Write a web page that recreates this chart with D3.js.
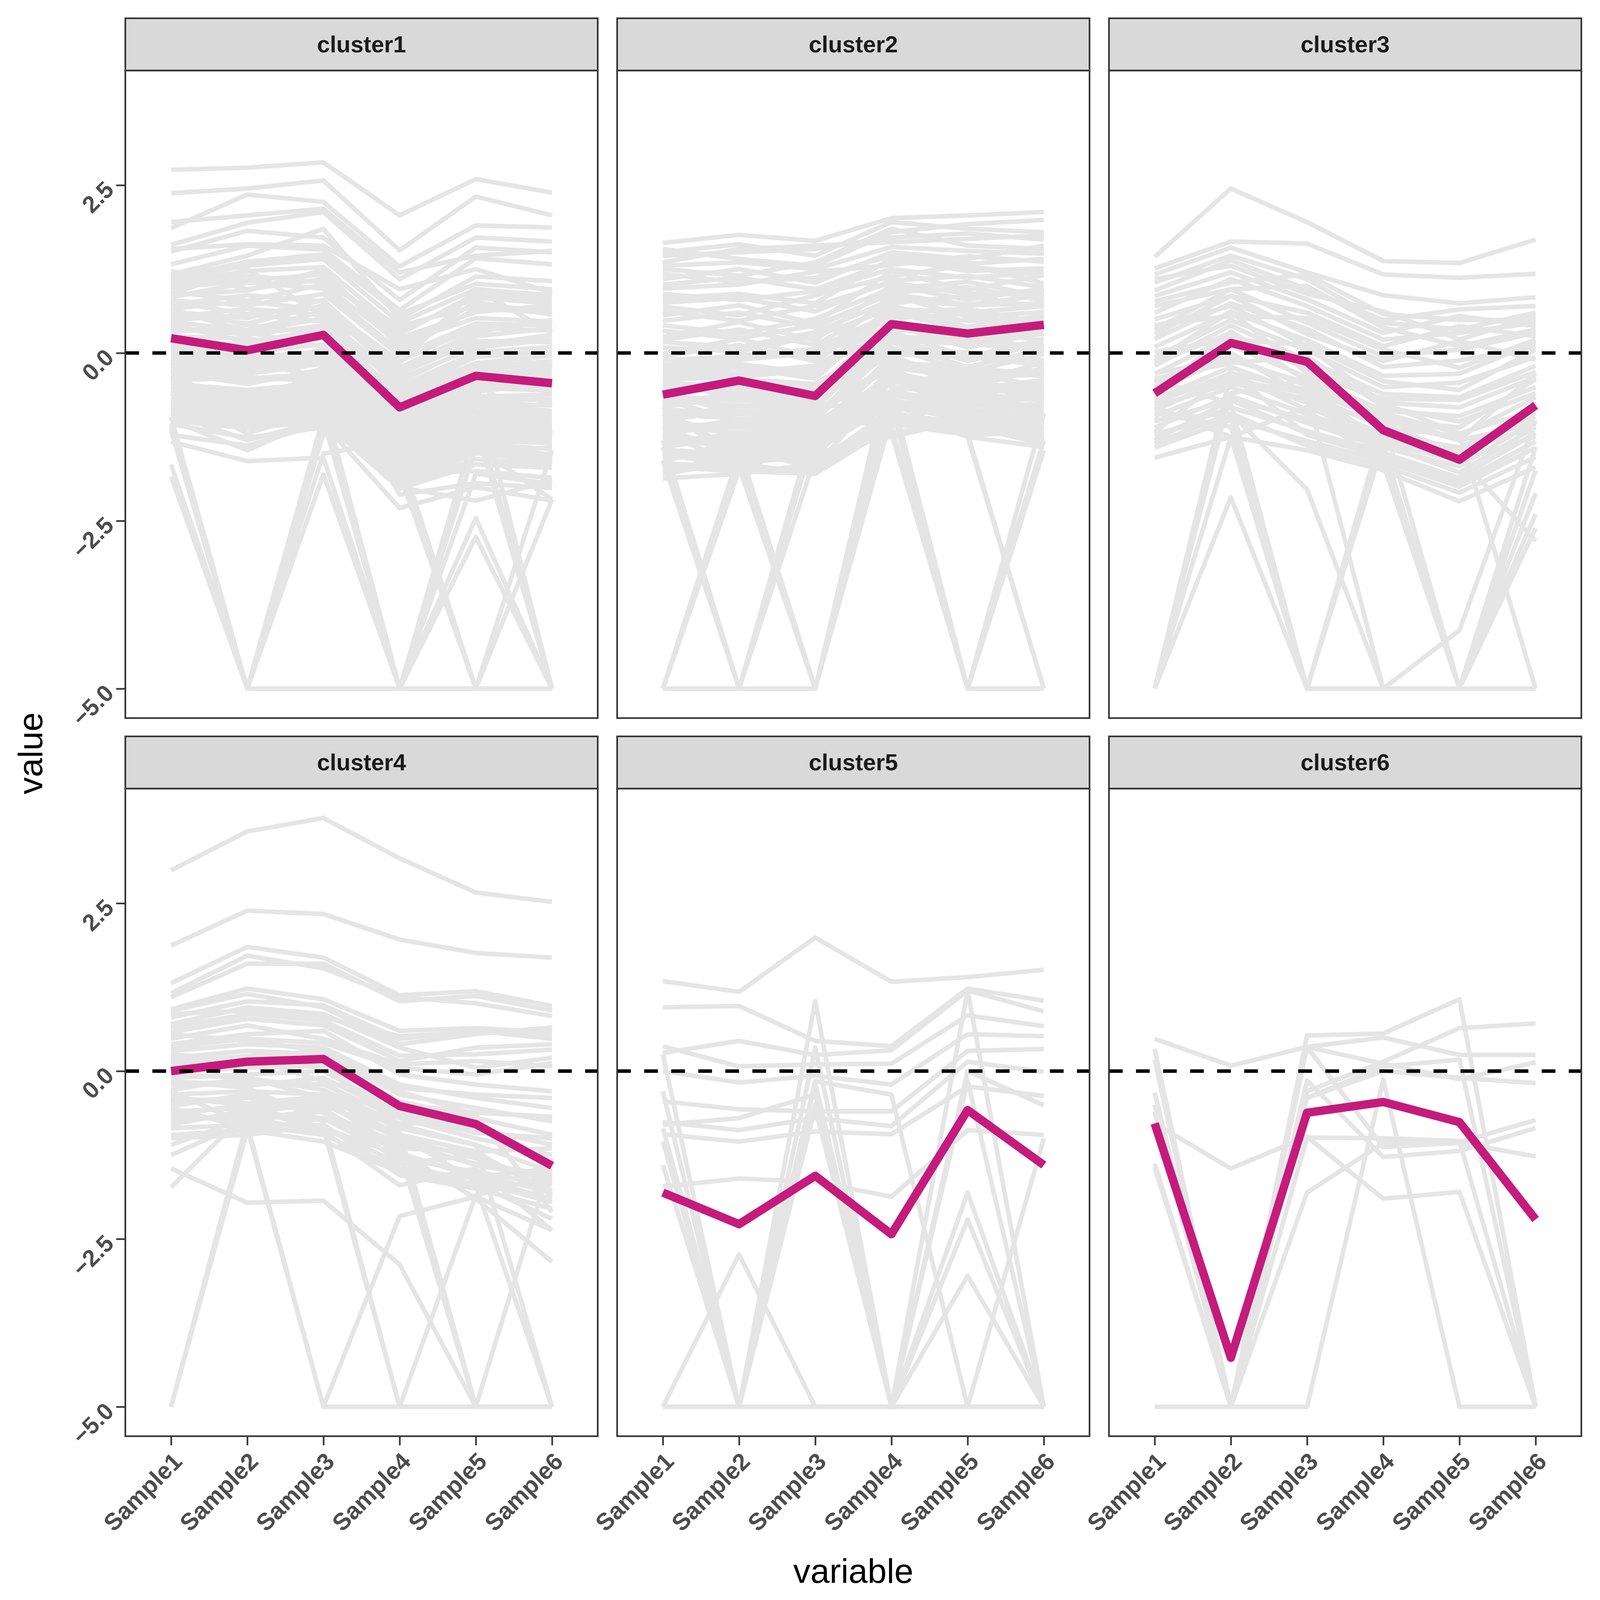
<!DOCTYPE html>
<html>
<head>
<meta charset="utf-8">
<script src="https://cdn.jsdelivr.net/npm/d3@7"></script>
<style>
  html, body { margin: 0; padding: 0; background: #fff; overflow: hidden; }
  #chart { display: block; width: 100vw; height: 100vh; }
  text { font-family: "Liberation Sans", Arial, sans-serif; }
</style>
</head>
<body>
<svg id="chart" viewBox="0 0 4200 4200" preserveAspectRatio="xMidYMid meet"></svg>
<script>
var samples = ["Sample1", "Sample2", "Sample3", "Sample4", "Sample5", "Sample6"];
var clusters = ["cluster1", "cluster2", "cluster3", "cluster4", "cluster5", "cluster6"];
var yTicks = [-5, -2.5, 0, 2.5];

// cluster means (magenta)
var clusterMeans = [
    [0.22, 0.04, 0.27, -0.81, -0.34, -0.45],
    [-0.62, -0.41, -0.64, 0.43, 0.29, 0.42],
    [-0.60, 0.15, -0.13, -1.15, -1.59, -0.78],
    [0.00, 0.14, 0.18, -0.52, -0.79, -1.41],
    [-1.81, -2.28, -1.56, -2.43, -0.58, -1.40],
    [-0.78, -4.27, -0.62, -0.46, -0.76, -2.21]
];

// grey member lines
var cluster1Lines = [
    [2.73, 2.76, 2.84, 2.05, 2.59, 2.39],
    [2.38, 2.45, 2.57, 1.53, 2.33, 2.05],
    [1.86, 2.36, 2.25, 1.29, 1.90, 1.87],
    [1.61, 1.94, 2.10, 1.10, 1.72, 1.66],
    [1.51, 1.82, 1.72, 0.79, 1.57, 1.50],
    [1.95, 2.05, 2.15, 1.20, 1.45, 1.52],
    [1.32, 1.60, 1.54, 0.64, 1.41, 1.32],
    [1.17, 1.45, 1.85, 0.51, 1.14, 1.07],
    [1.55, 1.62, 1.60, 0.95, 1.25, 0.90],
    [1.10, 1.30, 1.40, 0.45, 0.95, 0.86],
    [1.05, 1.22, 1.28, 0.33, 0.82, 0.74],
    [0.97, 1.08, 1.17, 0.22, 0.61, 0.71],
    [0.86, 0.93, 1.24, 0.08, 0.76, 0.57],
    [0.78, 0.71, 0.88, -0.04, 0.44, 0.41],
    [0.72, 0.86, 0.77, -0.22, 0.31, 0.49],
    [0.61, 0.52, 0.79, -0.31, 0.18, 0.16],
    [0.53, 0.66, 0.56, -0.43, 0.12, 0.27],
    [0.46, 0.34, 0.62, -0.57, -0.06, 0.02],
    [0.38, 0.27, 0.41, -0.66, -0.21, -0.12],
    [0.31, 0.42, 0.28, -0.73, -0.29, -0.24],
    [0.19, 0.12, 0.22, -0.87, -0.41, -0.33],
    [0.11, 0.01, 0.13, -0.94, -0.52, -0.56],
    [0.02, -0.11, -0.04, -1.06, -0.58, -0.44],
    [-0.09, -0.22, 0.06, -1.13, -0.71, -0.69],
    [-0.21, -0.31, -0.16, -1.27, -0.79, -0.86],
    [-0.29, -0.46, -0.24, -1.33, -0.92, -0.96],
    [-0.41, -0.36, -0.42, -1.44, -1.01, -1.04],
    [-0.52, -0.61, -0.49, -1.57, -1.12, -1.16],
    [-0.61, -0.72, -0.62, -1.63, -1.19, -1.27],
    [-0.69, -0.81, -0.74, -1.76, -1.31, -1.34],
    [-0.81, -0.92, -0.86, -1.84, -1.42, -1.51],
    [-0.89, -1.01, -0.94, -1.96, -1.49, -1.62],
    [-1.01, -1.12, -1.02, -2.02, -1.66, -1.71],
    [-1.06, -1.26, -1.11, -1.79, -1.76, -1.86],
    [-0.26, -0.14, -0.36, -0.61, -0.96, -0.72],
    [0.66, 0.31, 0.09, -0.91, 0.06, -0.21],
    [-0.56, -0.86, -0.21, -2.11, -1.94, -2.01],
    [1.12, 1.36, 1.47, 0.58, 1.03, 0.95],
    [1.01, 1.15, 1.05, 0.40, 0.70, 0.64],
    [0.91, 0.78, 1.02, 0.15, 0.52, 0.47],
    [0.83, 1.05, 0.96, 0.02, 0.66, 0.60],
    [0.76, 0.58, 0.69, -0.12, 0.38, 0.33],
    [0.66, 0.77, 0.64, -0.26, 0.25, 0.37],
    [0.58, 0.44, 0.71, -0.38, 0.08, 0.20],
    [0.49, 0.57, 0.47, -0.50, 0.01, 0.09],
    [0.42, 0.16, 0.35, -0.61, -0.15, -0.04],
    [0.34, 0.31, 0.52, -0.70, -0.26, -0.17],
    [0.25, 0.21, 0.10, -0.80, -0.36, -0.29],
    [0.15, 0.07, 0.31, -0.90, -0.46, -0.49],
    [0.06, -0.06, 0.02, -1.00, -0.55, -0.40],
    [-0.04, -0.17, -0.10, -1.10, -0.65, -0.62],
    [-0.15, -0.26, -0.09, -1.20, -0.75, -0.78],
    [-0.25, -0.38, -0.31, -1.30, -0.86, -0.90],
    [-0.35, -0.41, -0.35, -1.40, -0.97, -1.00],
    [-0.46, -0.55, -0.45, -1.50, -1.06, -1.10],
    [-0.56, -0.66, -0.56, -1.60, -1.16, -1.21],
    [-0.65, -0.76, -0.68, -1.70, -1.25, -1.30],
    [-0.75, -0.86, -0.80, -1.80, -1.36, -1.43],
    [-0.85, -0.96, -0.90, -1.90, -1.45, -1.56],
    [-0.95, -1.06, -0.98, -1.98, -1.58, -1.66],
    [1.22, 0.95, 1.10, 0.28, 0.88, 0.80],
    [0.88, 1.25, 0.55, -0.15, 0.95, 0.30],
    [-0.30, 0.20, -0.50, -1.55, -0.45, -1.20],
    [-1.32, -1.61, -1.56, -5, -1.80, -1.95],
    [-1.22, -1.38, -1.05, -2.31, -2.00, -2.20],
    [-1.66, -5, -1.10, -1.40, -1.30, -1.20],
    [-1.84, -5, -1.20, -1.60, -1.50, -1.40],
    [-1.05, -5, -0.95, -1.20, -1.10, -1.00],
    [-0.95, -5, -1.50, -1.30, -1.45, -1.60],
    [-1.15, -5, -5, -5, -5, -5],
    [-1.10, -5, -1.81, -5, -2.46, -5],
    [-0.60, -1.20, -0.85, -5, -2.74, -5],
    [-0.90, -1.30, -1.00, -5, -1.40, -2.18],
    [-0.50, -0.95, -0.70, -5, -1.10, -5],
    [-0.35, -0.80, -0.60, -1.80, -5, -2.18],
    [-0.70, -1.05, -0.75, -1.60, -5, -1.45],
    [-0.45, -0.60, -0.40, -1.50, -5, -5],
    [-0.15, -0.40, -0.30, -1.20, -0.90, -5],
    [0.15, 0.05, 0.25, -0.70, -0.45, -5],
    [-1.00, -1.45, -0.95, -2.00, -2.20, -1.90]
];

var cluster2Lines = [
    [1.64, 1.76, 1.67, 2.01, 2.05, 2.10],
    [1.50, 1.62, 1.45, 1.95, 1.85, 1.80],
    [1.55, 1.40, 1.30, 1.80, 1.92, 1.98],
    [1.35, 1.55, 1.60, 1.65, 1.70, 1.75],
    [1.25, 1.15, 1.35, 1.85, 1.60, 1.55],
    [1.10, 1.25, 1.05, 1.50, 1.40, 1.60],
    [0.96, 1.02, 1.21, 1.31, 1.44, 1.36],
    [0.81, 0.88, 0.74, 1.41, 1.22, 1.26],
    [0.69, 0.56, 0.86, 1.14, 1.31, 1.04],
    [0.56, 0.71, 0.44, 1.22, 0.94, 1.16],
    [0.41, 0.29, 0.51, 0.96, 1.06, 0.84],
    [0.24, 0.46, 0.19, 1.01, 0.79, 0.96],
    [0.16, 0.09, 0.31, 0.79, 0.71, 0.74],
    [-0.01, 0.21, -0.06, 0.86, 0.54, 0.61],
    [-0.11, -0.04, 0.06, 0.59, 0.66, 0.44],
    [-0.24, -0.16, -0.31, 0.71, 0.39, 0.56],
    [-0.36, -0.29, -0.19, 0.44, 0.31, 0.19],
    [-0.44, -0.51, -0.56, 0.51, 0.14, 0.36],
    [-0.56, -0.39, -0.46, 0.24, 0.21, 0.09],
    [-0.64, -0.71, -0.76, 0.31, -0.06, 0.21],
    [-0.76, -0.59, -0.66, 0.04, 0.01, -0.11],
    [-0.84, -0.91, -0.94, 0.16, -0.21, 0.06],
    [-0.96, -0.79, -0.86, -0.16, -0.29, -0.26],
    [-1.04, -1.11, -1.16, -0.04, -0.46, -0.14],
    [-1.16, -0.99, -1.04, -0.36, -0.54, -0.46],
    [-1.24, -1.31, -1.36, -0.24, -0.71, -0.59],
    [-1.36, -1.19, -1.24, -0.56, -0.79, -0.76],
    [-1.44, -1.51, -1.41, -0.69, -0.96, -0.89],
    [-1.56, -1.34, -1.61, -0.91, -1.04, -1.01],
    [-1.64, -1.71, -1.74, -0.99, -1.16, -1.11],
    [-1.76, -1.56, -1.49, -1.25, -0.99, -1.31],
    [-1.87, -1.80, -1.65, -0.85, -1.25, -1.40],
    [-1.20, -1.65, -1.80, -1.10, -0.60, -0.70],
    [-0.90, -1.45, -1.70, -0.40, -0.85, -0.95],
    [1.45, 1.50, 1.55, 1.72, 1.78, 1.69],
    [1.30, 1.35, 1.25, 1.58, 1.52, 1.48],
    [1.18, 1.05, 1.12, 1.45, 1.33, 1.40],
    [1.02, 1.12, 0.95, 1.36, 1.28, 1.18],
    [0.88, 0.79, 0.92, 1.25, 1.12, 1.20],
    [0.75, 0.82, 0.62, 1.08, 1.15, 0.98],
    [0.62, 0.48, 0.70, 1.05, 0.88, 0.92],
    [0.48, 0.60, 0.38, 0.90, 0.98, 0.78],
    [0.33, 0.22, 0.41, 0.88, 0.72, 0.86],
    [0.20, 0.35, 0.12, 0.74, 0.85, 0.68],
    [0.08, 0.02, 0.25, 0.66, 0.60, 0.70],
    [-0.05, 0.12, -0.12, 0.62, 0.48, 0.52],
    [-0.18, -0.10, 0.00, 0.52, 0.58, 0.38],
    [-0.30, -0.22, -0.38, 0.60, 0.35, 0.48],
    [-0.40, -0.35, -0.26, 0.35, 0.25, 0.28],
    [-0.50, -0.58, -0.62, 0.42, 0.08, 0.30],
    [-0.60, -0.46, -0.52, 0.18, 0.14, 0.02],
    [-0.70, -0.78, -0.82, 0.22, -0.12, 0.14],
    [-0.80, -0.65, -0.72, -0.02, -0.06, -0.18],
    [-0.90, -0.98, -1.00, 0.08, -0.28, -0.02],
    [-1.00, -0.86, -0.92, -0.22, -0.36, -0.32],
    [-1.10, -1.18, -1.22, -0.10, -0.52, -0.22],
    [-1.20, -1.06, -1.10, -0.42, -0.60, -0.52],
    [-1.30, -1.38, -1.42, -0.30, -0.78, -0.66],
    [-1.40, -1.25, -1.30, -0.62, -0.86, -0.82],
    [-1.50, -1.58, -1.46, -0.76, -1.02, -0.96],
    [-1.60, -1.40, -1.66, -0.96, -1.10, -1.06],
    [-1.70, -1.76, -1.80, -1.06, -1.22, -1.18],
    [-1.80, -1.62, -1.56, -1.18, -1.08, -1.36],
    [-5, -1.60, -1.45, -0.75, -0.90, -1.05],
    [-5, -1.75, -1.30, -0.60, -0.70, -0.80],
    [-5, -5, -5, -0.95, -1.10, -1.25],
    [-5, -1.50, -5, -0.50, -0.65, -0.70],
    [-1.40, -5, -1.20, -0.45, -0.30, -0.50],
    [-1.60, -5, -1.00, -0.80, -0.55, -0.40],
    [-1.30, -5, -1.55, -0.30, -0.50, -0.65],
    [-1.10, -1.55, -5, -0.85, -0.75, -0.90],
    [-0.80, -1.65, -5, -0.55, -0.40, -0.60],
    [-1.50, -1.70, -5, -0.70, -0.90, -1.15],
    [-1.20, -1.40, -5, -0.15, -0.20, -0.35],
    [-0.70, -1.00, -1.05, -0.60, -5, -1.30],
    [-1.00, -1.20, -1.30, -0.80, -5, -0.90],
    [-0.60, -0.90, -0.95, -1.10, -5, -5],
    [-0.40, -0.70, -0.80, -0.75, -1.25, -5],
    [-0.95, -1.25, -1.10, -0.95, -1.20, -5],
    [-1.80, -1.45, -1.50, -1.20, -5, -1.45]
];

var cluster3Lines = [
    [1.43, 2.45, 1.95, 1.37, 1.34, 1.69],
    [1.26, 1.66, 1.63, 1.17, 1.12, 1.18],
    [1.17, 1.57, 1.20, 0.86, 0.74, 0.83],
    [0.93, 1.38, 0.95, 0.49, 0.65, 0.70],
    [0.77, 1.05, 1.17, 0.58, 0.49, 0.49],
    [1.05, 1.45, 1.10, 0.45, 0.35, 0.60],
    [0.85, 1.20, 0.80, 0.30, 0.55, 0.40],
    [0.60, 1.10, 0.70, 0.20, 0.30, 0.45],
    [0.50, 0.85, 0.60, 0.10, 0.40, 0.25],
    [0.35, 0.95, 0.45, -0.05, 0.05, 0.30],
    [0.21, 0.74, 0.36, -0.21, -0.11, 0.09],
    [0.09, 0.61, 0.19, -0.34, -0.31, 0.16],
    [-0.06, 0.49, 0.04, -0.51, -0.44, -0.06],
    [-0.19, 0.41, -0.11, -0.61, -0.66, -0.19],
    [-0.31, 0.24, -0.21, -0.74, -0.81, -0.36],
    [-0.44, 0.11, -0.36, -0.86, -0.94, -0.51],
    [-0.56, -0.06, -0.49, -0.99, -1.11, -0.39],
    [-0.69, -0.21, -0.61, -1.11, -1.24, -0.66],
    [-0.86, -0.34, -0.74, -1.21, -1.41, -0.89],
    [-0.94, -0.51, -0.91, -1.29, -1.56, -0.74],
    [-1.11, -0.64, -1.04, -1.41, -1.69, -1.01],
    [-1.24, -0.81, -1.16, -1.49, -1.86, -1.19],
    [-1.41, -0.99, -1.31, -1.61, -1.99, -1.41],
    [-1.56, -1.25, -1.45, -1.75, -2.21, -1.70],
    [1.10, 1.30, 0.88, 0.62, 0.20, 0.55],
    [0.70, 0.95, 1.00, 0.38, 0.10, 0.35],
    [0.42, 0.55, 0.52, 0.05, -0.22, 0.20],
    [0.28, 0.85, 0.28, -0.12, 0.18, -0.10],
    [0.02, 0.20, 0.12, -0.42, -0.55, 0.05],
    [-0.12, 0.62, -0.30, -0.68, -0.70, -0.28],
    [-0.38, -0.15, -0.05, -0.80, -1.02, -0.60],
    [-0.62, 0.32, -0.42, -0.92, -1.30, -0.30],
    [-0.80, -0.45, -0.68, -1.05, -1.50, -0.82],
    [-1.02, -0.70, -0.98, -1.36, -1.78, -1.10],
    [-1.18, -0.28, -1.22, -1.55, -1.92, -1.32],
    [-1.35, -0.90, -1.38, -1.68, -2.08, -1.55],
    [-1.00, -0.90, -2.03, -5, -5, -5],
    [-5, -1.25, -0.80, -1.30, -1.45, -1.10],
    [-5, -0.60, -0.40, -0.90, -1.20, -0.85],
    [-5, -2.15, -5, -5, -5, -5],
    [-5, -0.30, -0.55, -1.00, -1.30, -1.05],
    [-0.80, -1.25, -5, -5, -5, -5],
    [-1.20, -0.95, -5, -1.35, -1.60, -1.25],
    [-0.40, -0.75, -5, -1.10, -1.50, -0.95],
    [-0.90, -1.10, -5, -5, -4.13, -1.00],
    [-0.65, -0.40, -0.60, -5, -5, -2.61],
    [-0.30, -0.10, -0.45, -1.40, -5, -2.40],
    [-0.15, 0.30, -0.25, -1.00, -5, -2.09],
    [-0.75, -0.30, -0.85, -1.65, -5, -1.75],
    [-1.30, -0.70, -1.20, -1.45, -5, -1.40],
    [0.40, 0.70, 0.10, -0.75, -1.20, -5],
    [-0.50, 0.00, -0.65, -1.25, -1.55, -2.80]
];

var cluster4Lines = [
    [2.99, 3.57, 3.77, 3.17, 2.66, 2.52],
    [1.87, 2.39, 2.34, 1.96, 1.76, 1.69],
    [1.31, 1.85, 1.69, 1.13, 1.19, 0.97],
    [1.16, 1.72, 1.53, 1.10, 1.01, 0.82],
    [1.10, 1.60, 1.60, 1.04, 1.12, 0.90],
    [0.92, 1.23, 1.07, 0.60, 0.64, 0.58],
    [0.80, 1.04, 0.98, 0.48, 0.60, 0.48],
    [0.65, 0.85, 0.75, 0.23, 0.25, 0.32],
    [0.48, 0.68, 0.48, 0.10, 0.15, 0.07],
    [0.90, 1.15, 0.95, 0.40, 0.55, 0.65],
    [0.70, 0.95, 0.85, 0.35, 0.05, 0.20],
    [0.40, 0.55, 0.60, -0.05, -0.20, -0.30],
    [0.30, 0.40, 0.35, -0.20, -0.40, -0.55],
    [0.20, 0.30, 0.25, -0.35, -0.55, -0.75],
    [0.05, 0.10, 0.15, -0.45, -0.70, -0.95],
    [-0.10, -0.05, 0.00, -0.60, -0.85, -1.10],
    [-0.20, -0.15, -0.20, -0.70, -1.00, -1.25],
    [-0.35, -0.30, -0.35, -0.85, -1.10, -1.50],
    [-0.45, -0.40, -0.50, -1.00, -1.30, -1.65],
    [-0.60, -0.55, -0.45, -1.15, -1.20, -1.85],
    [-0.75, -0.65, -0.70, -1.30, -1.50, -1.70],
    [-0.85, -0.80, -0.95, -1.45, -1.60, -1.90],
    [-1.00, -0.95, -0.80, -1.55, -1.75, -2.05],
    [-1.10, -0.70, -0.90, -1.70, -1.45, -2.37],
    [-1.25, -0.75, -0.60, -1.20, -1.90, -2.84],
    [0.85, 0.90, 0.80, 0.52, 0.58, 0.55],
    [0.58, 0.78, 0.68, 0.15, 0.35, 0.40],
    [0.36, 0.48, 0.42, 0.05, -0.05, 0.12],
    [0.15, 0.22, 0.30, -0.25, -0.35, -0.40],
    [-0.02, 0.05, 0.08, -0.50, -0.62, -0.68],
    [-0.15, -0.22, -0.10, -0.65, -0.92, -1.00],
    [-0.28, -0.10, -0.28, -0.78, -0.75, -1.35],
    [-0.40, -0.48, -0.38, -0.95, -1.20, -1.15],
    [-0.52, -0.35, -0.62, -1.08, -1.38, -1.55],
    [-0.68, -0.72, -0.58, -1.22, -1.58, -1.45],
    [-0.80, -0.58, -0.85, -1.38, -1.25, -1.78],
    [-0.95, -0.88, -1.05, -1.50, -1.68, -2.20],
    [-1.45, -1.96, -1.93, -2.88, -5, -5],
    [-1.73, -0.60, -0.50, -0.95, -1.65, -1.95],
    [-5, -0.89, -0.70, -1.05, -1.40, -1.60],
    [-5, -0.75, -0.85, -1.25, -1.55, -1.80],
    [-0.30, -0.80, -5, -2.16, -1.87, -2.37],
    [-0.55, -0.85, -5, -5, -5, -5],
    [-0.15, -0.25, -0.75, -5, -1.85, -1.55],
    [-0.40, -0.50, -0.85, -5, -5, -5],
    [0.10, 0.20, -0.15, -0.90, -5, -5],
    [-0.05, -0.10, -0.40, -1.20, -5, -1.30],
    [0.25, 0.15, 0.05, -0.80, -1.10, -5],
    [-0.65, -0.50, -0.55, -1.35, -1.70, -5],
    [0.55, 0.45, 0.30, -0.30, -0.65, -2.10]
];

var cluster5Lines = [
    [1.34, 1.18, 1.99, 1.33, 1.40, 1.51],
    [0.95, 0.97, 0.45, 0.37, 1.23, 1.05],
    [0.37, 0.07, 0.10, 0.11, 0.83, 0.67],
    [0.27, 0.45, 0.24, 0.31, 1.20, 0.89],
    [0.00, -0.17, -0.07, -0.20, 0.55, 0.52],
    [-0.45, -0.57, -0.60, -0.60, 0.30, 0.33],
    [-0.76, -0.88, -0.70, -0.82, 0.14, -0.01],
    [-0.94, -1.05, -0.90, -0.94, -0.23, -0.37],
    [-1.72, -1.60, -1.65, -1.87, -0.88, -0.95],
    [0.25, -5, -5, -5, -5, -5],
    [-0.30, -5, 0.35, -5, 1.20, -5],
    [-0.85, -5, -0.15, -0.35, -5, -5],
    [-5, -2.73, -5, -5, -5, -5],
    [-5, -5, 1.04, -5, -0.14, -5],
    [-1.05, -5, -0.18, -5, -1.81, -5],
    [-5, -5, -0.50, -5, -2.21, -5],
    [-5, -5, -0.55, -5, -3.05, -5],
    [-1.40, -5, -5, -5, 0.00, -0.51],
    [-0.80, -0.70, -0.35, -5, -5, -1.00],
    [-5, -5, -5, -5, -5, -5]
];

var cluster6Lines = [
    [0.48, 0.08, 0.36, 0.50, 0.24, 0.24],
    [0.33, -5, 0.53, 0.56, 1.07, -5],
    [0.17, -5, 0.36, 0.11, -0.12, 0.13],
    [-0.32, -5, 0.36, -1.13, -1.07, -1.27],
    [-0.60, -5, -0.14, -1.28, -1.19, -0.85],
    [-0.62, -5, -0.40, 0.00, -0.10, -0.18],
    [-0.50, -5, -0.30, 0.14, 0.64, 0.71],
    [-0.78, -1.45, -0.98, -1.90, -1.80, -5],
    [-5, -5, -5, -0.13, -5, -5],
    [-1.38, -5, -1.81, -1.07, -1.06, -0.73],
    [-1.44, -5, -0.99, -1.00, -1.04, -5],
    [-0.32, -5, -0.40, 0.07, 0.17, -5]
];

var clusterLines = [cluster1Lines, cluster2Lines, cluster3Lines, cluster4Lines, cluster5Lines, cluster6Lines];

var svg = d3.select("#chart");
svg.append("rect").attr("width", 4200).attr("height", 4200).attr("fill", "#ffffff");

var panelW = 1240, panelH = 1700, stripH = 137;
var panelLeft = [329, 1620, 2911];
var panelTop = [185, 2070];

// shared y range with ggplot-like 5% expansion
var allVals = d3.merge(clusterLines.map(function(c){ return d3.merge(c); }).concat(clusterMeans));
var ext = d3.extent(allVals);
var pad = (ext[1] - ext[0]) * 0.05;
var yDomain = [ext[0] - pad, ext[1] + pad];

clusters.forEach(function(name, i){
    var col = i % 3, row = Math.floor(i / 3);
    var left = panelLeft[col], top = panelTop[row];

    var x = d3.scalePoint()
        .domain(samples)
        .range([left, left + panelW])
        .padding(0.6);
    var y = d3.scaleLinear()
        .domain(yDomain)
        .range([top + panelH, top]);

    var line = d3.line()
        .x(function(d, j){ return x(samples[j]); })
        .y(function(d){ return y(d); });

    var g = svg.append("g").attr("class", "panel-" + name);

    g.append("rect")
        .attr("x", left).attr("y", top)
        .attr("width", panelW).attr("height", panelH)
        .attr("fill", "#ffffff");

    //grey member lines
    g.selectAll("path.member")
        .data(clusterLines[i])
        .enter()
        .append("path")
        .attr("class", "member")
        .attr("d", line)
        .attr("fill", "none")
        .attr("stroke", "#E5E5E5")
        .attr("stroke-width", 12)
        .attr("stroke-linejoin", "round")
        .attr("stroke-linecap", "butt");

    //mean line
    g.append("path")
        .datum(clusterMeans[i])
        .attr("d", line)
        .attr("fill", "none")
        .attr("stroke", "#C51B7D")
        .attr("stroke-width", 22)
        .attr("stroke-linejoin", "round")
        .attr("stroke-linecap", "butt");

    //zero line
    g.append("line")
        .attr("x1", left).attr("x2", left + panelW)
        .attr("y1", y(0)).attr("y2", y(0))
        .attr("stroke", "#000000")
        .attr("stroke-width", 9)
        .attr("stroke-dasharray", "36,35");

    //panel border
    g.append("rect")
        .attr("x", left).attr("y", top)
        .attr("width", panelW).attr("height", panelH)
        .attr("fill", "none")
        .attr("stroke", "#333333")
        .attr("stroke-width", 4.3);

    //strip
    g.append("rect")
        .attr("x", left).attr("y", top - stripH)
        .attr("width", panelW).attr("height", stripH)
        .attr("fill", "#D9D9D9")
        .attr("stroke", "#333333")
        .attr("stroke-width", 4.3);
    g.append("text")
        .attr("x", left + panelW / 2)
        .attr("y", top - stripH / 2)
        .attr("text-anchor", "middle")
        .attr("dominant-baseline", "central")
        .attr("font-size", 61)
        .attr("font-weight", "bold")
        .attr("fill", "#1A1A1A")
        .text(name);

    if (col === 0) {
        var axisY = d3.axisLeft(y)
            .tickValues(yTicks)
            .tickSize(24)
            .tickFormat(d3.format(".1f"));
        var ay = svg.append("g")
            .attr("class", "axis-Y")
            .attr("transform", "translate(" + left + ",0)")
            .call(axisY);
        ay.select(".domain").remove();
        ay.selectAll(".tick line").attr("stroke", "#333333").attr("stroke-width", 4.3);
        ay.selectAll(".tick text")
            .attr("x", null).attr("dy", null)
            .attr("transform", "translate(-42,0) rotate(-45)")
            .attr("text-anchor", "end")
            .attr("dominant-baseline", "central")
            .attr("font-size", 62)
            .attr("font-weight", "bold")
            .attr("font-family", "Liberation Sans, Arial, sans-serif")
            .attr("fill", "#4D4D4D");
    }

    if (row === 1) {
        var axisX = d3.axisBottom(x).tickSize(24);
        var ax = svg.append("g")
            .attr("class", "axis-X")
            .attr("transform", "translate(0," + (top + panelH) + ")")
            .call(axisX);
        ax.select(".domain").remove();
        ax.selectAll(".tick line").attr("stroke", "#333333").attr("stroke-width", 4.3);
        ax.selectAll(".tick text")
            .attr("y", null)
            .attr("transform", "translate(0,38) rotate(-45)")
            .attr("text-anchor", "end")
            .attr("dy", "0.72em")
            .attr("font-size", 63)
            .attr("font-weight", "bold")
            .attr("font-family", "Liberation Sans, Arial, sans-serif")
            .attr("fill", "#4D4D4D");
    }
});

//axis titles
svg.append("text")
    .attr("transform", "translate(111," + (panelTop[0] + (panelTop[1] + panelH - panelTop[0]) / 2) + ") rotate(-90)")
    .attr("text-anchor", "middle")
    .attr("font-size", 90)
    .attr("fill", "#000000")
    .text("value");
svg.append("text")
    .attr("x", panelLeft[0] + (panelLeft[2] + panelW - panelLeft[0]) / 2)
    .attr("y", 4155)
    .attr("text-anchor", "middle")
    .attr("font-size", 90)
    .attr("fill", "#000000")
    .text("variable");
</script>
</body>
</html>
